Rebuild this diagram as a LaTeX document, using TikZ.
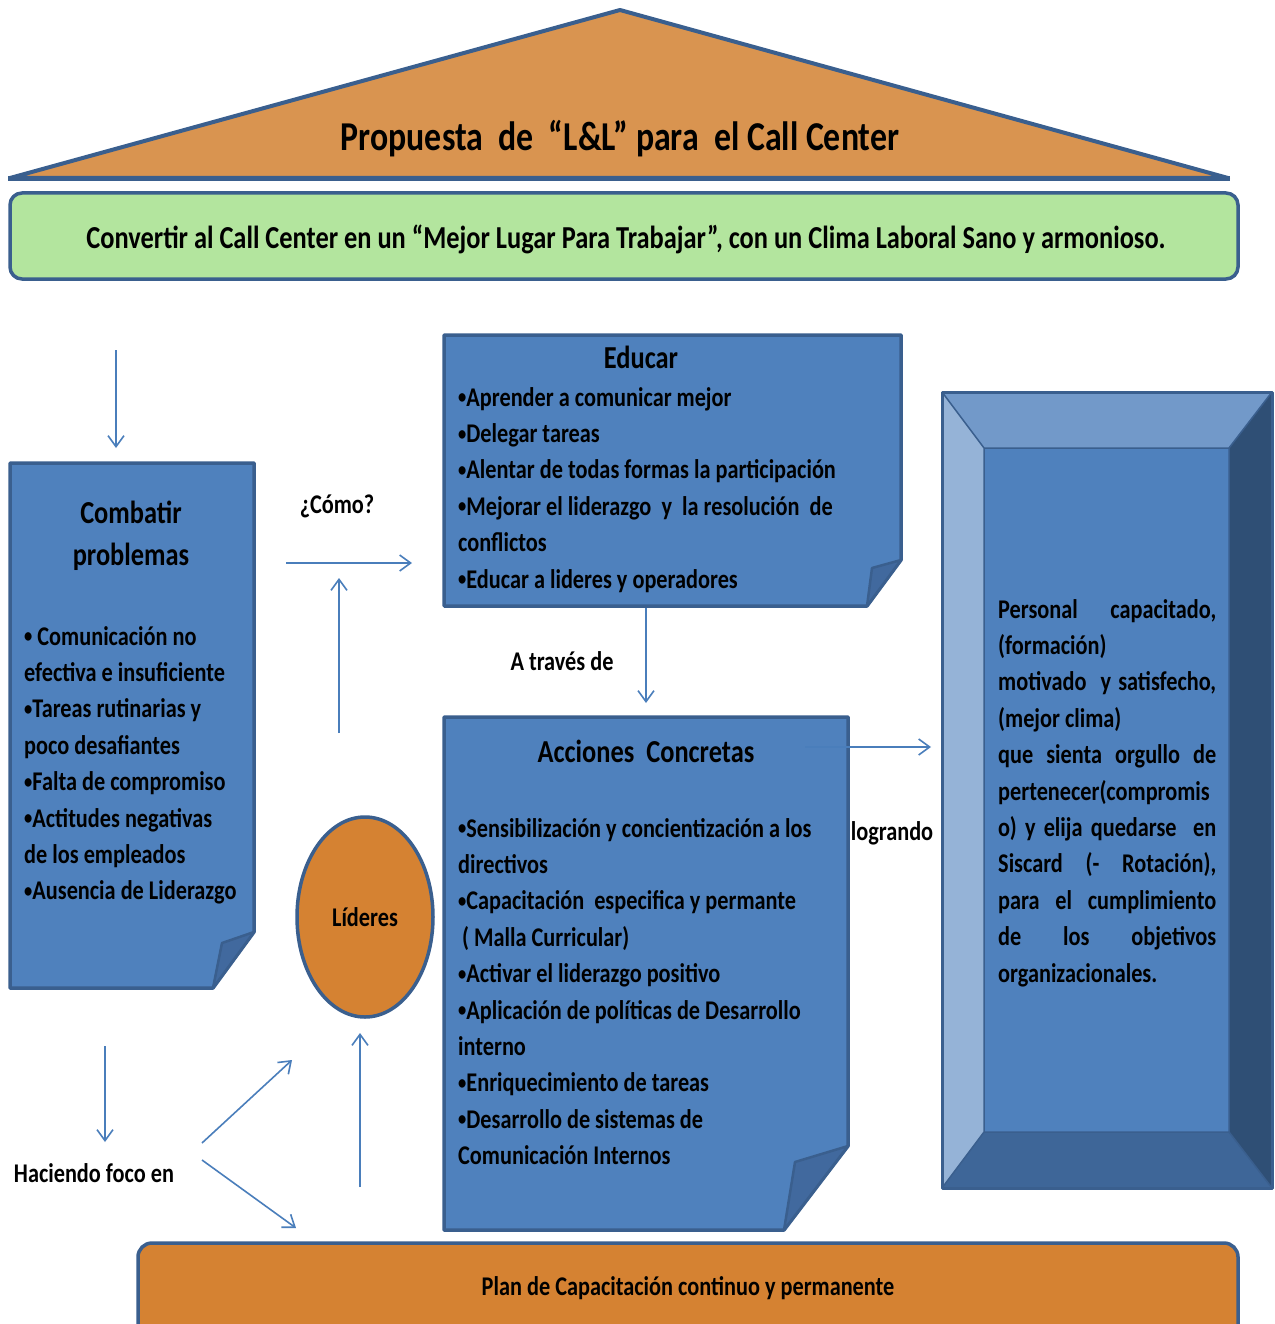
\documentclass[tikz,border=0pt]{standalone}
\usepackage{fontspec}
\setmainfont{Carlito}[FakeStretch=0.825]
\usetikzlibrary{arrows.meta,shapes.geometric}
\definecolor{boxblue}{HTML}{4F81BD}
\definecolor{edge}{HTML}{3A5F8E}
\definecolor{flap}{HTML}{41699E}
\definecolor{roof}{HTML}{D99450}
\definecolor{orangeb}{HTML}{D58232}
\definecolor{greenb}{HTML}{B3E59E}
\definecolor{arrowc}{HTML}{4A7EBB}
\definecolor{bevtop}{HTML}{7299C9}
\definecolor{bevleft}{HTML}{95B3D7}
\definecolor{bevright}{HTML}{2F4F75}
\definecolor{bevbot}{HTML}{3E6698}
\newcommand{\bul}{\raisebox{2.5pt}{\fontsize{20}{20}\selectfont •}}
\tikzset{
  panel/.style={draw=edge, fill=boxblue, line width=3.5pt, line join=round},
  flapst/.style={draw=edge, fill=flap, line width=2.5pt, line join=round},
  conn/.style={draw=arrowc, line width=1.6pt, -{Straight Barb[length=11pt,width=16pt]}},
  body/.style={inner sep=0pt, font=\fontsize{27}{36.4}\selectfont\bfseries},
  listtext/.style={body, anchor=north west, align=left},
  label/.style={body, anchor=base},
  headtext/.style={inner sep=0pt, font=\fontsize{32}{42}\selectfont\bfseries}
}
\begin{document}
\begin{tikzpicture}[x=1pt,y=-1pt]
\useasboundingbox (0,0) rectangle (1274,1324);
\fill[white] (0,0) rectangle (1274,1324);

% roof
\draw[draw=edge, fill=roof, line width=4pt, line join=round] (10,178) -- (620,10) -- (1228,178) -- cycle;
\draw[edge, line width=5pt] (8,179) -- (1230,179);
\node[inner sep=0pt, anchor=base, font=\fontsize{41}{48}\selectfont\bfseries] (title) at (620,151)
  {Propuesta\ \ de\ \ “L\&L” para\ \ el Call Center};

% green banner
\draw[draw=edge, fill=greenb, line width=3.5pt, rounded corners=12pt] (10,193) rectangle (1238,279);
\node[inner sep=0pt, anchor=base, font=\fontsize{32}{40}\selectfont\bfseries] (goal) at (626,248)
  {Convertir al Call Center en un “Mejor Lugar Para Trabajar”, con un Clima Laboral Sano y armonioso.};

% Combatir problemas
\draw[panel] (10,463) -- (254,463) -- (254,932) -- (213,988) -- (10,988) -- cycle;
\draw[flapst] (254,932) -- (222,943) -- (213,988) -- cycle;
\node[headtext, anchor=north, align=center] (comb) at (131,493.6) {\strut Combatir\\problemas};
\node[listtext] (combl) at (24,619.5) {\strut\bul\ Comunicación no\\efectiva e insuficiente\\\bul Tareas rutinarias y\\poco desafiantes\\\bul Falta de compromiso\\\bul Actitudes negativas\\de los empleados\\\bul Ausencia de Liderazgo};

% Educar
\draw[panel] (444,335) -- (901,335) -- (901,560) -- (867,606) -- (444,606) -- cycle;
\draw[flapst] (901,560) -- (872,568) -- (867,606) -- cycle;
\node[headtext, anchor=base] (edu) at (641,368) {Educar};
\node[listtext] (edul) at (458,380.5) {\strut\bul Aprender a comunicar mejor\\\bul Delegar tareas\\\bul Alentar de todas formas la participación\\\bul Mejorar el liderazgo\ \ y\ \ la resolución\ \ de\\conflictos\\\bul Educar a lideres y operadores};

% Acciones concretas
\draw[panel] (444,717) -- (848,717) -- (848,1146) -- (784,1230) -- (444,1230) -- cycle;
\draw[flapst] (848,1146) -- (795,1162) -- (784,1230) -- cycle;
\node[headtext, anchor=base] (acc) at (646,762) {Acciones\ \ Concretas};
\node[listtext] (accl) at (458,811.5) {\strut\bul Sensibilización y concientización a los\\directivos\\\bul Capacitación\ \ especifica y permante\\\hspace{4pt}( Malla Curricular)\\\bul Activar el liderazgo positivo\\\bul Aplicación de políticas de Desarrollo\\interno\\\bul Enriquecimiento de tareas\\\bul Desarrollo de sistemas de\\Comunicación Internos};

% result bevel box
\fill[bevtop] (942,392) -- (1272,392) -- (1229,448) -- (984,448) -- cycle;
\fill[bevright] (1272,392) -- (1272,1188) -- (1229,1132) -- (1229,448) -- cycle;
\fill[bevbot] (942,1188) -- (1272,1188) -- (1229,1132) -- (984,1132) -- cycle;
\fill[bevleft] (942,392) -- (984,448) -- (984,1132) -- (942,1188) -- cycle;
\fill[boxblue] (984,448) rectangle (1229,1132);
\draw[edge, line width=1.5pt, line join=round] (942,392) -- (984,448) (1272,392) -- (1229,448) (1272,1188) -- (1229,1132) (942,1188) -- (984,1132) (984,448) rectangle (1229,1132);
\draw[edge, line width=3pt, line join=round] (942,392) rectangle (1272,1188);
\node[listtext] (res) at (998,592.5) {\strut\makebox[218pt][s]{Personal capacitado,}\\(formación)\\\makebox[218pt][s]{motivado\ \ y satisfecho,}\\(mejor clima)\\\makebox[218pt][s]{que sienta orgullo de}\\pertenecer(compromis\\\makebox[218pt][s]{o) y elija quedarse\ \ en}\\\makebox[218pt][s]{Siscard (- Rotación),}\\\makebox[218pt][s]{para el cumplimiento}\\\makebox[218pt][s]{de los objetivos}\\organizacionales.};

% Lideres
\node[ellipse, draw=edge, fill=orangeb, line width=3.5pt, minimum width=136pt, minimum height=200pt, inner sep=0pt] (lid) at (365,917) {};
\node[label] (lidt) at (365,926.5) {Líderes};

% bottom plan
\draw[draw=edge, fill=orangeb, line width=3.5pt, rounded corners=14pt] (138,1243) rectangle (1238,1350);
\node[label] (plan) at (688,1295.5) {Plan de Capacitación continuo y permanente};

% labels
\node[label] (como) at (337,513.5) {¿Cómo?};
\node[label] (traves) at (562,670.5) {A través de};
\node[label] (logr) at (892,840.5) {logrando};
\node[label] (foco) at (94,1182.5) {Haciendo foco en};

% connector coordinates
\coordinate (a1s) at (116,350); \coordinate (a1e) at (116,448);
\coordinate (a2s) at (286,563); \coordinate (a2e) at (412,563);
\coordinate (a3s) at (339,733); \coordinate (a3e) at (339,578);
\coordinate (a4s) at (646,608); \coordinate (a4e) at (646,703);
\coordinate (a5s) at (805,747); \coordinate (a5e) at (931,747);
\coordinate (a6s) at (105,1046); \coordinate (a6e) at (105,1142);
\coordinate (a7s) at (202,1143); \coordinate (a7e) at (292,1060);
\coordinate (a8s) at (202,1160); \coordinate (a8e) at (296,1228);
\coordinate (a9s) at (360,1187); \coordinate (a9e) at (360,1033);
\foreach \i in {1,...,9} {\draw[conn] (a\i s) -- (a\i e);}
\end{tikzpicture}
\end{document}
